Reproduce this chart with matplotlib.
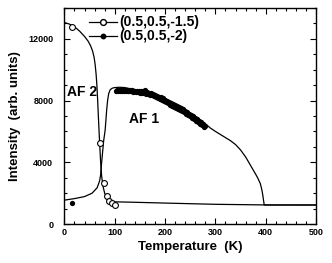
import matplotlib
matplotlib.use("Agg")
import matplotlib.pyplot as plt
from matplotlib.lines import Line2D
from matplotlib.ticker import MultipleLocator

plt.rcParams['font.family'] = ['Liberation Sans', 'DejaVu Sans']
plt.rcParams['font.weight'] = 'bold'

# fit curve through the AF2 peak (0.5,0.5,-1.5)
t_fit1 = [0, 10, 20, 30, 40, 47, 52, 56, 59, 61, 63, 64.5, 66, 68, 70, 72, 74, 77, 80, 84,
          88, 94, 100, 130, 200, 300, 400, 500]
i_fit1 = [13050, 12950, 12780, 12500, 12150, 11850, 11550, 11200, 10800, 10350, 9700, 9000,
          8050, 6600, 5240, 4000, 3100, 2400, 2000, 1700, 1550, 1460, 1440, 1420, 1360, 1280,
          1240, 1235]

# fit curve through the AF1 peak (0.5,0.5,-2)
t_fit2 = [0, 20, 40, 55, 65, 70, 72, 74, 76, 78, 81, 84, 86, 88, 91, 95, 100, 110, 120, 140,
          160, 180, 200, 220, 240, 260, 280, 290, 300, 310, 320, 330, 340, 350, 360, 375, 380,
          384, 387, 389, 391, 393, 394.5, 395.5, 396.5, 397, 500]
i_fit2 = [1550, 1650, 1780, 2000, 2350, 2800, 3200, 4000, 4700, 5400, 6100, 7400, 8050, 8450,
          8700, 8800, 8840, 8860, 8840, 8700, 8520, 8300, 8050, 7750, 7400, 7000, 6500, 6220,
          6000, 5800, 5600, 5400, 5150, 4800, 4350, 3510, 3230, 2990, 2780, 2640, 2400, 2100,
          1800, 1560, 1350, 1235, 1235]

# open circles (0.5,0.5,-1.5)
t_open = [16, 70, 79, 84, 89, 94, 100]
i_open = [12760, 5240, 2670, 1820, 1520, 1380, 1240]

# filled dots (0.5,0.5,-2)
t_fill = [16,
          102, 104, 106, 108, 110, 112, 114, 116, 118, 120,
          122, 124, 126, 128, 130, 132, 134, 136, 138, 140,
          142, 144, 146, 148, 150, 152, 154, 156, 158, 160,
          162, 164, 166, 168, 170, 172, 174, 176, 178, 180,
          182, 184, 186, 188, 190, 192, 194, 196, 198, 200,
          202, 204, 206, 208, 210, 212, 214, 216, 218, 220,
          222, 224, 226, 228, 230, 232, 234, 236, 238, 240,
          242, 244, 246, 248, 250, 252, 254, 256, 258, 260,
          262, 264, 266, 268, 270, 272, 274, 276, 278, 280]
i_fill = [1385,
          8600, 8680, 8620, 8710, 8650, 8700, 8620, 8690, 8640, 8700,
          8610, 8680, 8640, 8600, 8690, 8620, 8660, 8580, 8650, 8600,
          8540, 8640, 8560, 8610, 8520, 8600, 8500, 8620, 8480, 8700,
          8450, 8560, 8400, 8500, 8380, 8460, 8340, 8420, 8280, 8380,
          8230, 8320, 8180, 8260, 8120, 8200, 8060, 8140, 7980, 8060,
          7900, 7980, 7820, 7900, 7740, 7820, 7660, 7760, 7600, 7720,
          7540, 7640, 7460, 7560, 7400, 7500, 7320, 7420, 7230, 7330,
          7140, 7240, 7060, 7160, 6980, 7080, 6900, 7000, 6800, 6900,
          6700, 6780, 6600, 6680, 6500, 6580, 6400, 6480, 6300, 6380]

fig = plt.figure(figsize=(3.32, 2.63), dpi=100)
ax = fig.add_axes([0.194, 0.148, 0.758, 0.822])

ax.plot(t_fit1, i_fit1, color='black', lw=0.9, zorder=2)
ax.plot(t_fit2, i_fit2, color='black', lw=0.9, zorder=2)
ax.plot(t_fill, i_fill, 'o', color='black', ms=3.8, mew=0, zorder=3)
ax.plot(t_open, i_open, 'o', mfc='white', mec='black', ms=4.2, mew=0.8, zorder=4)

ax.set_xlim(0, 500)
ax.set_ylim(0, 14000)
ax.xaxis.set_major_locator(MultipleLocator(100))
ax.xaxis.set_minor_locator(MultipleLocator(20))
ax.yaxis.set_major_locator(MultipleLocator(4000))
ax.yaxis.set_minor_locator(MultipleLocator(1000))
ax.tick_params(which='both', direction='in', top=True, right=True, labelsize=6.5, width=0.8)
ax.tick_params(which='major', length=4)
ax.tick_params(which='minor', length=2.5)
ax.tick_params(axis='x', pad=3)
ax.tick_params(axis='y', pad=8)
for s in ax.spines.values():
    s.set_linewidth(1.0)

ax.set_xlabel('Temperature  (K)', fontsize=9.5, fontweight='bold', labelpad=3)
ax.set_ylabel('Intensity  (arb. units)', fontsize=9.5, fontweight='bold', labelpad=5)

ax.text(35, 8580, 'AF 2', fontsize=10, ha='center', va='center')
ax.text(158, 6820, 'AF 1', fontsize=10, ha='center', va='center')

h1 = Line2D([], [], color='black', lw=0.9, marker='o', mfc='white', mec='black', ms=4.2)
h2 = Line2D([], [], color='black', lw=0.9, marker='o', mfc='black', mec='black', ms=3.2)
ax.legend([h1, h2], ['(0.5,0.5,-1.5)', '(0.5,0.5,-2)'], loc='upper left',
          bbox_to_anchor=(0.06, 1.01), frameon=False, fontsize=10, handlelength=2.0,
          handletextpad=0.15, labelspacing=0.0, borderpad=0.2)

fig.savefig('out.png', dpi=100)
